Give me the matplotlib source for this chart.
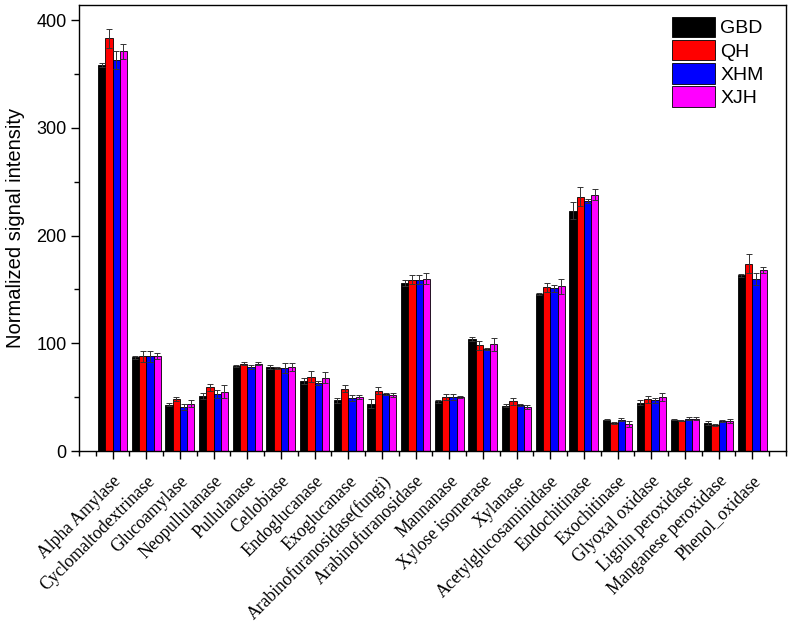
import numpy as np
import matplotlib
matplotlib.use("Agg")
import matplotlib.pyplot as plt
from matplotlib.ticker import MultipleLocator

# enzyme categories (x axis)
enzymes = ["Alpha Amylase", "Cyclomaltodextrinase", "Glucoamylase", "Neopullulanase",
           "Pullulanase", "Cellobiase", "Endoglucanase", "Exoglucanase",
           "Arabinofuranosidase(fungi)", "Arabinofuranosidase", "Mannanase",
           "Xylose isomerase", "Xylanase", "Acetylglucosaminidase", "Endochitinase",
           "Exochitinase", "Glyoxal oxidase", "Lignin peroxidase",
           "Manganese peroxidase", "Phenol_oxidase"]

groups = ["GBD", "QH", "XHM", "XJH"]

# mean signal per group
gbd = [358, 87, 43, 51, 79, 78, 65, 47, 44, 156, 46, 104, 42, 146, 223, 29, 45, 29, 26, 163]
qh  = [383, 88, 48, 59, 81, 77, 69, 58, 56, 159, 50, 98, 46, 152, 236, 26, 48, 28, 24, 174]
xhm = [363, 88, 41, 53, 78, 77, 63, 49, 53, 159, 50, 95, 43, 151, 232, 29, 47, 30, 28, 160]
xjh = [371, 88, 44, 55, 81, 78, 68, 50, 52, 160, 50, 99, 41, 153, 238, 25, 50, 30, 28, 168]

# error (sd)
gbd_err = [2, 1.5, 1.5, 2.5, 1, 2, 3, 2, 4, 2.5, 1, 2, 1.5, 1, 8, 0.5, 2.5, 0.5, 2, 1.5]
qh_err  = [9, 5, 2, 3, 1.5, 1, 5, 3, 3, 4, 3, 4, 3, 4, 9, 0.5, 3, 0.5, 1, 9]
xhm_err = [8, 5, 3, 3.5, 1.5, 4.5, 2, 3, 1, 4, 3, 1, 1, 3.5, 2, 1.5, 2.5, 1.5, 1, 5.5]
xjh_err = [7, 3, 3, 6, 1.5, 4, 5, 2, 1.5, 5, 1, 6, 2, 7, 5, 2.5, 4, 1.5, 2, 2.5]

colors = ["#000000", "#FF0000", "#0000FF", "#FF00FF"]

means = [gbd, qh, xhm, xjh]
errs = [gbd_err, qh_err, xhm_err, xjh_err]

fig = plt.figure(figsize=(7.92, 6.24), dpi=100)
ax = fig.add_axes([0.0997, 0.2772, 0.8927, 0.7148])

x = np.arange(len(enzymes))
w = 0.215
for i, (m, e) in enumerate(zip(means, errs)):
    pos = x + (i - 1.5) * w
    ax.bar(pos, m, width=w, color=colors[i], edgecolor="black", linewidth=0.6,
           label=groups[i], zorder=2)
    ax.errorbar(pos, m, yerr=e, fmt="none", ecolor="#333333", elinewidth=0.7,
                capsize=2.5, capthick=0.7, zorder=3)

ax.set_xlim(-1, len(enzymes))
ax.set_ylim(0, 414)

ax.set_xticks(x)
ax.set_xticklabels(enzymes, rotation=45, ha="right", rotation_mode="anchor",
                   fontfamily="Liberation Serif", fontsize=12.7)
ax.xaxis.set_minor_locator(MultipleLocator(0.5))
ax.yaxis.set_major_locator(MultipleLocator(100))
ax.yaxis.set_minor_locator(MultipleLocator(50))
ax.tick_params(axis="both", which="major", direction="out", length=6, width=1)
ax.tick_params(axis="both", which="minor", direction="out", length=3.5, width=1)
ax.tick_params(axis="x", which="major", pad=9.5)
ax.tick_params(axis="y", which="major", pad=3)
for lab in ax.get_yticklabels():
    lab.set_fontfamily("Liberation Sans")
    lab.set_fontsize(13)

ax.set_ylabel("Normalized signal intensity", fontfamily="Liberation Sans", fontsize=14.5,
              labelpad=8)

for s in ax.spines.values():
    s.set_linewidth(1)

leg = ax.legend(loc="upper right", bbox_to_anchor=(0.985, 1.0), frameon=False,
                prop={"family": "Liberation Sans", "size": 14},
                handlelength=2.2, handleheight=1.25, handletextpad=0.3,
                labelspacing=0.12, borderaxespad=0.2)

fig.savefig("out.png", dpi=100)
